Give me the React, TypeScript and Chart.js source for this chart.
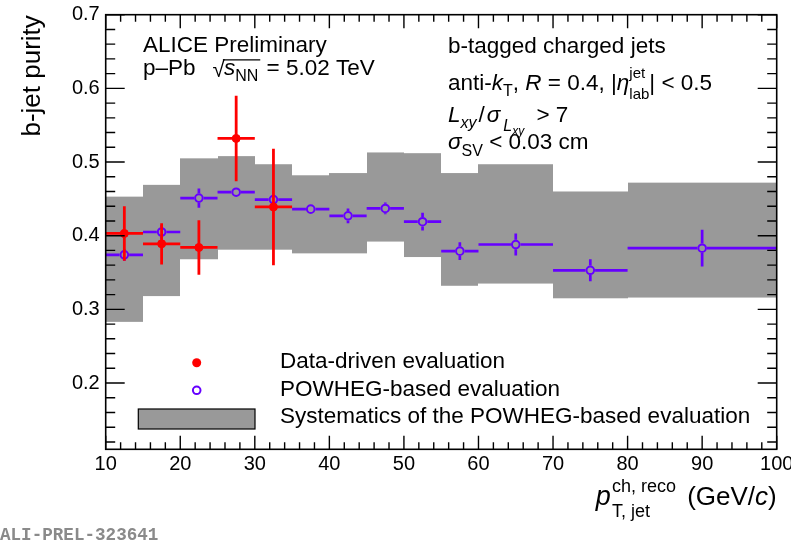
import React, { useEffect, useRef } from "react";
import { Chart, registerables } from "chart.js";

Chart.register(...registerables);

// ---------- data ----------
const binLow = [10, 15, 20, 25, 30, 35, 40, 45, 50, 55, 60, 70, 80];
const binHigh = [15, 20, 25, 30, 35, 40, 45, 50, 55, 60, 70, 80, 100];
const powheg = [0.374, 0.405, 0.451, 0.459, 0.449, 0.436, 0.427, 0.437, 0.419, 0.379, 0.388, 0.353, 0.383];
const powhegErr = [0.008, 0.009, 0.013, 0.006, 0.007, 0.006, 0.01, 0.008, 0.012, 0.012, 0.015, 0.015, 0.025];
const sysLow = [0.283, 0.318, 0.368, 0.381, 0.381, 0.376, 0.376, 0.392, 0.371, 0.332, 0.335, 0.315, 0.316];
const sysHigh = [0.453, 0.469, 0.505, 0.508, 0.497, 0.482, 0.485, 0.513, 0.512, 0.485, 0.497, 0.46, 0.472];

const ddBinLow = [10, 15, 20, 25, 30];
const ddBinHigh = [15, 20, 25, 30, 35];
const dataDriven = [0.403, 0.389, 0.384, 0.532, 0.439];
const dataDrivenErr = [0.037, 0.028, 0.037, 0.058, 0.079];

const xTicks = [10, 20, 30, 40, 50, 60, 70, 80, 90, 100];
const yTicks = [0.2, 0.3, 0.4, 0.5, 0.6, 0.7];

const legendLabels = [
  "Data-driven evaluation",
  "POWHEG-based evaluation",
  "Systematics of the POWHEG-based evaluation",
];

// ---------- style ----------
const FONT = '"Liberation Sans", Arial, Helvetica, sans-serif';
const RED = "#ff0000";
const VIOLET = "#6600ff";
const GRAY = "#999999";
const TXT = 22.5;

type Seg = { t: string; s: number; it?: boolean; dy?: number; dx?: number; stack?: boolean };

function drawRich(ctx: CanvasRenderingContext2D, x: number, y: number, segs: Seg[], draw = true): number {
  let cx = x;
  let pending = 0;
  for (const g of segs) {
    cx += g.dx || 0;
    ctx.font = `${g.it ? "italic " : ""}${g.s}px ${FONT}`;
    const w = ctx.measureText(g.t).width;
    if (draw) ctx.fillText(g.t, cx, y + (g.dy || 0));
    if (g.stack) {
      pending = Math.max(pending, w);
    } else {
      cx += Math.max(w, pending);
      pending = 0;
    }
  }
  return cx - x;
}

const centers = (lo: number[], hi: number[]) => lo.map((v, i) => (v + hi[i]) / 2);

const rootPlugin = {
  id: "rootStyle",
  beforeDatasetsDraw(chart: any) {
    const { ctx, chartArea: a, scales } = chart;
    const x = scales.x;
    const y = scales.y;
    ctx.save();
    ctx.beginPath();
    ctx.rect(a.left, a.top, a.right - a.left, a.bottom - a.top);
    ctx.clip();
    ctx.fillStyle = GRAY;
    for (let i = 0; i < binLow.length; i++) {
      const x0 = Math.round(x.getPixelForValue(binLow[i]));
      const x1 = Math.round(x.getPixelForValue(binHigh[i]));
      const y0 = y.getPixelForValue(sysHigh[i]);
      const y1 = y.getPixelForValue(sysLow[i]);
      ctx.fillRect(x0, y0, x1 - x0, y1 - y0);
    }
    ctx.restore();
  },
  beforeDatasetDraw(chart: any, args: any) {
    const { ctx, chartArea: a, scales } = chart;
    const x = scales.x;
    const y = scales.y;
    ctx.save();
    ctx.beginPath();
    ctx.rect(a.left, a.top, a.right - a.left, a.bottom - a.top);
    ctx.clip();
    if (args.index === 1) {
      ctx.strokeStyle = VIOLET;
      ctx.lineWidth = 2.7;
      const gap = 4.8;
      ctx.beginPath();
      for (let i = 0; i < powheg.length; i++) {
        const cx = x.getPixelForValue((binLow[i] + binHigh[i]) / 2);
        const cy = y.getPixelForValue(powheg[i]);
        const xl = x.getPixelForValue(binLow[i]);
        const xh = x.getPixelForValue(binHigh[i]);
        const yt = y.getPixelForValue(powheg[i] + powhegErr[i]);
        const yb = y.getPixelForValue(powheg[i] - powhegErr[i]);
        ctx.moveTo(xl, cy);
        ctx.lineTo(cx - gap, cy);
        ctx.moveTo(cx + gap, cy);
        ctx.lineTo(xh, cy);
        if (cy - yt > gap) {
          ctx.moveTo(cx, cy - gap);
          ctx.lineTo(cx, yt);
          ctx.moveTo(cx, cy + gap);
          ctx.lineTo(cx, yb);
        }
      }
      ctx.stroke();
    } else if (args.index === 0) {
      ctx.strokeStyle = RED;
      ctx.lineWidth = 2.8;
      ctx.beginPath();
      for (let i = 0; i < dataDriven.length; i++) {
        const cx = x.getPixelForValue((ddBinLow[i] + ddBinHigh[i]) / 2);
        const cy = y.getPixelForValue(dataDriven[i]);
        ctx.moveTo(x.getPixelForValue(ddBinLow[i]), cy);
        ctx.lineTo(x.getPixelForValue(ddBinHigh[i]), cy);
        ctx.moveTo(cx, y.getPixelForValue(dataDriven[i] + dataDrivenErr[i]));
        ctx.lineTo(cx, y.getPixelForValue(dataDriven[i] - dataDrivenErr[i]));
      }
      ctx.stroke();
    }
    ctx.restore();
  },
  afterDraw(chart: any) {
    const { ctx, chartArea: a, scales } = chart;
    const x = scales.x;
    const y = scales.y;
    ctx.save();
    // ticks
    ctx.strokeStyle = "#000";
    ctx.lineWidth = 1.4;
    ctx.beginPath();
    for (let k = 10; k <= 100; k += 2) {
      const px = x.getPixelForValue(k);
      const len = k % 10 === 0 ? 13.5 : 7;
      ctx.moveTo(px, a.bottom);
      ctx.lineTo(px, a.bottom - len);
      ctx.moveTo(px, a.top);
      ctx.lineTo(px, a.top + len);
    }
    for (let k = 12; k <= 70; k += 2) {
      const py = y.getPixelForValue(k / 100);
      const len = k % 10 === 0 ? 19 : 9.5;
      ctx.moveTo(a.left, py);
      ctx.lineTo(a.left + len, py);
      ctx.moveTo(a.right, py);
      ctx.lineTo(a.right - len, py);
    }
    ctx.stroke();
    // frame
    ctx.lineWidth = 1.6;
    ctx.strokeRect(a.left, a.top, a.right - a.left, a.bottom - a.top);

    ctx.fillStyle = "#000";
    ctx.textAlign = "left";
    ctx.textBaseline = "alphabetic";

    // y title
    ctx.save();
    ctx.translate(40, a.top + 0.5);
    ctx.rotate(-Math.PI / 2);
    ctx.textAlign = "right";
    ctx.font = `26px ${FONT}`;
    ctx.fillText("b-jet purity", 0, 0);
    ctx.restore();

    // x title (right aligned)
    const xt: Seg[] = [
      { t: "p", s: 27, it: true },
      { t: "ch, reco", s: 18, dy: -13, dx: 1, stack: true },
      { t: "T, jet", s: 18, dy: 12 },
      { t: " (GeV/", s: 26, dx: 4 },
      { t: "c", s: 26, it: true },
      { t: ")", s: 26 },
    ];
    const xw = drawRich(ctx, 0, 0, xt, false);
    drawRich(ctx, a.right - xw, 505, xt);

    // left annotation
    ctx.font = `${TXT}px ${FONT}`;
    ctx.fillText("ALICE Preliminary", 143, 51.7);
    let cx = 143;
    const b2 = 75;
    cx += drawRich(ctx, cx, b2, [{ t: "p\u2013Pb", s: TXT }]);
    cx += 17;
    ctx.font = `${TXT}px ${FONT}`;
    const sq = ctx.measureText("\u221A");
    ctx.fillText("\u221A", cx, b2 + 2);
    const topY = b2 + 2 - sq.actualBoundingBoxAscent + 0.8;
    cx += sq.width - 1;
    const sStart = cx;
    cx += drawRich(ctx, cx, b2, [
      { t: "s", s: TXT, it: true },
      { t: "NN", s: 16, dy: 6 },
    ]);
    ctx.lineWidth = 1.2;
    ctx.beginPath();
    ctx.moveTo(sStart - 1, topY);
    ctx.lineTo(cx + 2, topY);
    ctx.stroke();
    drawRich(ctx, cx + 2, b2, [{ t: " = 5.02 TeV", s: TXT }]);

    // right annotation
    const rx = 448;
    ctx.font = `${TXT}px ${FONT}`;
    ctx.fillText("b-tagged charged jets", rx, 53.3);
    drawRich(ctx, rx, 89.5, [
      { t: "anti-", s: TXT },
      { t: "k", s: TXT, it: true },
      { t: "T", s: 16, dy: 6 },
      { t: ", ", s: TXT },
      { t: "R", s: TXT, it: true },
      { t: " = 0.4, |", s: TXT },
      { t: "\u03B7", s: TXT, it: true },
      { t: "jet", s: 15, dy: -12, stack: true },
      { t: "lab", s: 15, dy: 9 },
      { t: "| < 0.5", s: TXT },
    ]);
    drawRich(ctx, rx, 121.7, [
      { t: "L", s: TXT, it: true },
      { t: "xy", s: 16, it: true, dy: 6 },
      { t: "/", s: TXT, dx: 2 },
      { t: "\u03C3", s: TXT, it: true, dx: 2 },
      { t: "L", s: 16, it: true, dy: 9, dx: 3 },
      { t: "xy", s: 12, it: true, dy: 13 },
      { t: " > 7", s: TXT, dx: 6 },
    ]);
    drawRich(ctx, rx, 149.3, [
      { t: "\u03C3", s: TXT, it: true },
      { t: "SV", s: 16, dy: 7 },
      { t: " < 0.03 cm", s: TXT },
    ]);

    // legend
    ctx.fillStyle = RED;
    ctx.beginPath();
    ctx.arc(196.7, 362.7, 4.5, 0, Math.PI * 2);
    ctx.fill();
    ctx.strokeStyle = VIOLET;
    ctx.lineWidth = 2;
    ctx.beginPath();
    ctx.arc(196.7, 390.3, 3.8, 0, Math.PI * 2);
    ctx.stroke();
    ctx.fillStyle = GRAY;
    ctx.fillRect(138.3, 409, 116.7, 20);
    ctx.strokeStyle = "#000";
    ctx.lineWidth = 1.2;
    ctx.strokeRect(138.3, 409, 116.7, 20);
    ctx.fillStyle = "#000";
    ctx.font = `${TXT}px ${FONT}`;
    ctx.fillText(legendLabels[0], 280, 368.3);
    ctx.fillText(legendLabels[1], 280, 396);
    ctx.fillText(legendLabels[2], 280, 423.3);

    // preliminary id
    ctx.fillStyle = "#8a8a8a";
    ctx.font = `bold 17.6px "Liberation Mono", "DejaVu Sans Mono", monospace`;
    ctx.fillText("ALI-PREL-323641", 0, 540);
    ctx.restore();
  },
};

export default function App() {
  const ref = useRef<HTMLCanvasElement>(null);
  useEffect(() => {
    const canvas = ref.current;
    if (!canvas) return;
    const ddX = centers(ddBinLow, ddBinHigh);
    const pwX = centers(binLow, binHigh);
    const chart = new Chart(canvas, {
      type: "scatter",
      data: {
        datasets: [
          {
            label: legendLabels[0],
            data: dataDriven.map((v, i) => ({ x: ddX[i], y: v })),
            pointRadius: 4,
            pointBackgroundColor: RED,
            pointBorderColor: RED,
            pointBorderWidth: 1,
            showLine: false,
          },
          {
            label: legendLabels[1],
            data: powheg.map((v, i) => ({ x: pwX[i], y: v })),
            pointRadius: 3.8,
            pointBackgroundColor: "rgba(0,0,0,0)",
            pointBorderColor: VIOLET,
            pointBorderWidth: 2,
            showLine: false,
          },
        ],
      },
      options: {
        animation: false,
        responsive: false,
        devicePixelRatio: 1,
        events: [],
        layout: { padding: { left: 0, top: 14.7, right: 14.3, bottom: 0 } },
        plugins: { legend: { display: false }, tooltip: { enabled: false } },
        scales: {
          x: {
            type: "linear",
            min: 10,
            max: 100,
            grid: { display: false, drawTicks: false },
            border: { display: false },
            ticks: {
              font: { family: FONT, size: 20 },
              color: "#000",
              padding: 3,
              maxRotation: 0,
              autoSkip: false,
              callback: (v: any) => String(v),
            },
            afterBuildTicks: (s: any) => {
              s.ticks = xTicks.map((v) => ({ value: v }));
            },
            afterFit: (s: any) => {
              s.height = 90.7;
              s.paddingLeft = 0;
              s.paddingRight = 0;
            },
          },
          y: {
            type: "linear",
            min: 0.11,
            max: 0.7,
            grid: { display: false, drawTicks: false },
            border: { display: false },
            ticks: {
              font: { family: FONT, size: 20 },
              color: "#000",
              padding: 6,
              autoSkip: false,
              callback: (v: any) => Number(v).toFixed(1),
            },
            afterBuildTicks: (s: any) => {
              s.ticks = yTicks.map((v) => ({ value: v }));
            },
            afterFit: (s: any) => {
              s.width = 105.7;
              s.paddingTop = 0;
              s.paddingBottom = 0;
            },
          },
        },
      } as any,
      plugins: [rootPlugin as any],
    });
    return () => chart.destroy();
  }, []);
  return (
    <div style={{ position: "absolute", left: 0, top: 0, width: 791, height: 540, background: "#fff" }}>
      <canvas ref={ref} width={791} height={540} style={{ display: "block", width: 791, height: 540 }} />
    </div>
  );
}
